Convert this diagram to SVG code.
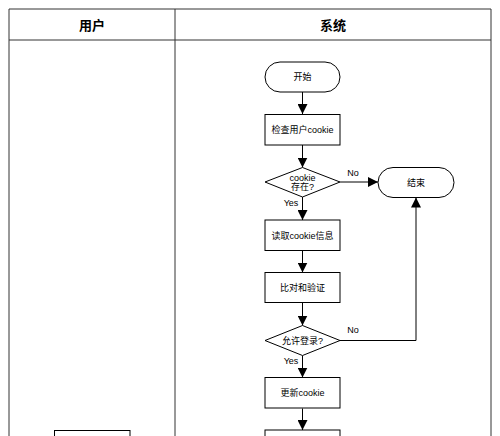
<svg xmlns="http://www.w3.org/2000/svg" width="500" height="436" viewBox="0 0 500 436">
<style>
.lane{fill:none;stroke:#333;stroke-width:1}
.n{fill:#fff;stroke:#000;stroke-width:1}
.t{font-family:"Liberation Sans","Noto Sans CJK SC",sans-serif;font-size:9px;fill:#000;text-anchor:middle;dominant-baseline:central}
.h{font-family:"Liberation Sans","Noto Sans CJK SC",sans-serif;font-size:13px;font-weight:bold;fill:#000;text-anchor:middle;dominant-baseline:central}
.c{fill:none;stroke:#000;stroke-width:1}
.lb{font-family:"Liberation Sans","Noto Sans CJK SC",sans-serif;font-size:9px;fill:#000;text-anchor:middle}
</style>
<defs>
<marker id="ah" viewBox="0 0 10 10" refX="10" refY="5" markerWidth="10" markerHeight="10" markerUnits="userSpaceOnUse" orient="auto">
<path d="M0,0 L10,5 L0,10 Z" fill="#000"/>
</marker>
</defs>
<rect width="500" height="436" fill="#fff"/>
<g id="lanes">
<path class="lane" d="M9,437 V9 H491 V437 M9,40 H491 M175,9 V437"/>
<text class="h" x="92" y="25">用户</text>
<text class="h" x="333" y="25">系统</text>
</g>
<g id="connectors">
<path class="c" d="M302.5,92 V114" marker-end="url(#ah)"/>
<path class="c" d="M302.5,145 V167.5" marker-end="url(#ah)"/>
<path class="c" d="M340,182 H378" marker-end="url(#ah)"/>
<text class="lb" x="353" y="176">No</text>
<path class="c" d="M302.5,197 V220" marker-end="url(#ah)"/>
<text class="lb" x="291" y="206">Yes</text>
<path class="c" d="M302.5,251 V272.5" marker-end="url(#ah)"/>
<path class="c" d="M302.5,303 V325.5" marker-end="url(#ah)"/>
<path class="c" d="M340,340.5 H416 V197.5" marker-end="url(#ah)"/>
<text class="lb" x="353" y="333">No</text>
<path class="c" d="M302.5,355.5 V377.5" marker-end="url(#ah)"/>
<text class="lb" x="291" y="364">Yes</text>
<path class="c" d="M302.5,408.5 V430" marker-end="url(#ah)"/>
</g>
<g id="start">
<rect class="n" x="265" y="62" width="75" height="30" rx="15"/>
<text class="t" x="302.5" y="77">开始</text>
</g>
<g id="check">
<rect class="n" x="265" y="114.5" width="75" height="30.5"/>
<text class="t" x="302.5" y="130">检查用户cookie</text>
</g>
<g id="exists">
<path class="n" d="M302.5,167.5 L340,182 L302.5,197 L265,182 Z"/>
<text class="t" x="302.5" y="177.5">cookie</text>
<text class="t" x="302.5" y="187">存在?</text>
</g>
<g id="end">
<rect class="n" x="378" y="167.5" width="76" height="30" rx="15"/>
<text class="t" x="416" y="182.5">结束</text>
</g>
<g id="read">
<rect class="n" x="265" y="220" width="75" height="30.5"/>
<text class="t" x="302.5" y="235.5">读取cookie信息</text>
</g>
<g id="verify">
<rect class="n" x="265" y="272.5" width="75" height="30"/>
<text class="t" x="302.5" y="288">比对和验证</text>
</g>
<g id="allow">
<path class="n" d="M302.5,325.5 L340,340.5 L302.5,355.5 L265,340.5 Z"/>
<text class="t" x="302.5" y="341">允许登录?</text>
</g>
<g id="update">
<rect class="n" x="265" y="377.5" width="75" height="30.5"/>
<text class="t" x="302.5" y="393">更新cookie</text>
</g>
<g id="next">
<rect class="n" x="265" y="430" width="75" height="30"/>
</g>
<g id="userbox">
<rect class="n" x="54.5" y="430.5" width="75.5" height="30"/>
</g>
</svg>
